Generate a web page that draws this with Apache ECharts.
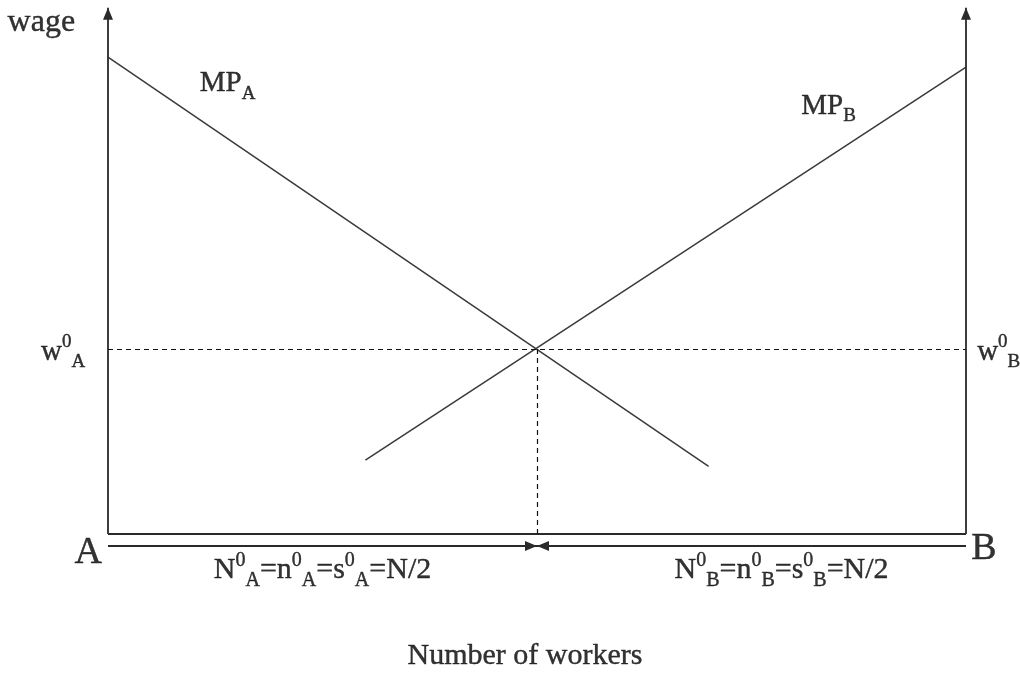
<!DOCTYPE html>
<html>
<head>
<meta charset="utf-8">
<script src="https://cdn.jsdelivr.net/npm/echarts@6/dist/echarts.min.js"></script>
<style>
html,body{margin:0;padding:0;background:#fff;}
#chart{width:1020px;height:673px;}
</style>
</head>
<body>
<div id="chart"></div>
<script>
// ---- data (model units: workers 0..100 from A to B, wage 0..100) ----
const workerRange = [0, 100];
const wageRange = [-5, 102];
const axisTop = 101.2;          // top of the two wage axes (arrow tips)
const mpA = [[0, 91.7], [70, 13.0]];   // MP_A, falling
const mpB = [[30, 14.2], [100, 89.8]]; // MP_B, rising
const nEq = 50;                 // N/2
const wEq = 35.6;               // w0
const arrowRowY = -2.3;         // level of the N-arrows under the axis

// label anchors [x, y] in model units
const labelPoints = {
  wage: [-11.7, 98.4],
  mpA: [10.7, 86.6],
  mpB: [80.8, 82.3],
  w0A: [-7.8, 35.0],
  w0B: [101.3, 35.0],
  A: [-2.3, -3.6],
  B: [102.1, -2.9],
  nA: [25.0, -7.0],
  nB: [78.5, -7.0],
  title: [48.6, -23.5]
};

const serif = "'Liberation Serif', 'Times New Roman', serif";
const ink = '#000';
const base = (s) => ({fontSize: s, fontFamily: serif, color: ink, textBorderColor: ink, textBorderWidth: 0.4});
const main = (s, lh) => Object.assign(base(s), {lineHeight: lh});
const supSt = (s) => Object.assign(base(s), {verticalAlign: 'top', lineHeight: s});
const subSt = (s) => Object.assign(base(s), {verticalAlign: 'bottom', lineHeight: s});

const richBase = {
  m: main(29, 39),
  sup: supSt(19),
  sub: subSt(19),
  n: main(30, 40),
  nsup: supSt(20),
  nsub: subSt(20),
  w: main(32, 36),
  big: main(38, 40),
  t: main(30, 34)
};

function lbl(key, text, align) {
  return {
    value: labelPoints[key],
    label: {show: true, position: 'inside', align: align || 'left', verticalAlign: 'middle',
      color: ink, textBorderWidth: 0, formatter: text, rich: richBase}
  };
}

const labels = [
  lbl('wage', '{w|wage}'),
  lbl('mpA', '{m|MP}{sub|A}'),
  lbl('mpB', '{m|MP}{sub|B}'),
  lbl('w0A', '{m|w}{sup|0}{sub|A}'),
  lbl('w0B', '{m|w}{sup|0}{sub|B}'),
  lbl('A', '{big|A}', 'center'),
  lbl('B', '{big|B}', 'center'),
  lbl('nA', '{n|N}{nsup|0}{nsub|A}{n|=n}{nsup|0}{nsub|A}{n|=s}{nsup|0}{nsub|A}{n|=N/2}', 'center'),
  lbl('nB', '{n|N}{nsup|0}{nsub|B}{n|=n}{nsup|0}{nsub|B}{n|=s}{nsup|0}{nsub|B}{n|=N/2}', 'center'),
  lbl('title', '{t|Number of workers}', 'center')
];

const chart = echarts.init(document.getElementById('chart'), null, {renderer: 'canvas'});
const pt = (x, y) => ({coord: [x, y]});

chart.setOption({
  animation: false,
  backgroundColor: '#fff',
  grid: {left: 108, right: 54, top: 3.6, bottom: 113},
  xAxis: {type: 'value', min: workerRange[0], max: workerRange[1], show: false},
  yAxis: {type: 'value', min: wageRange[0], max: wageRange[1], show: false},
  series: [
    { // MP curves
      type: 'line', data: mpA, symbol: 'none', clip: false,
      lineStyle: {color: '#3a3a3a', width: 1.5}
    },
    {
      type: 'line', data: mpB, symbol: 'none', clip: false,
      lineStyle: {color: '#3a3a3a', width: 1.5}
    },
    { // axes with arrows
      type: 'line', data: [], markLine: {
        silent: true, symbol: ['none', 'triangle'], symbolSize: [10, 12],
        symbolOffset: [0, [0, 6]], label: {show: false},
        lineStyle: {color: '#2a2a2a', width: 1.8, type: 'solid'},
        itemStyle: {color: '#000'},
        data: [
          [pt(workerRange[0], 0), pt(workerRange[0], axisTop)],
          [pt(workerRange[1], 0), pt(workerRange[1], axisTop)],
          [pt(workerRange[0], arrowRowY), pt(nEq, arrowRowY)],
          [pt(workerRange[1], arrowRowY), pt(nEq, arrowRowY)]
        ]
      }
    },
    { // bottom axis
      type: 'line', data: [], markLine: {
        silent: true, symbol: ['none', 'none'], label: {show: false},
        lineStyle: {color: '#2a2a2a', width: 1.8, type: 'solid'},
        data: [[pt(workerRange[0], 0), pt(workerRange[1], 0)]]
      }
    },
    { // dashed equilibrium guides
      type: 'line', data: [], markLine: {
        silent: true, symbol: ['none', 'none'], label: {show: false},
        lineStyle: {color: '#111', width: 1.2, type: [5, 4]},
        data: [
          [pt(workerRange[0], wEq), pt(workerRange[1], wEq)],
          [pt(nEq, wEq), pt(nEq, 0)]
        ]
      }
    },
    { // text labels
      type: 'scatter', symbolSize: 0, clip: false, silent: true,
      data: labels
    }
  ]
});
</script>
</body>
</html>
